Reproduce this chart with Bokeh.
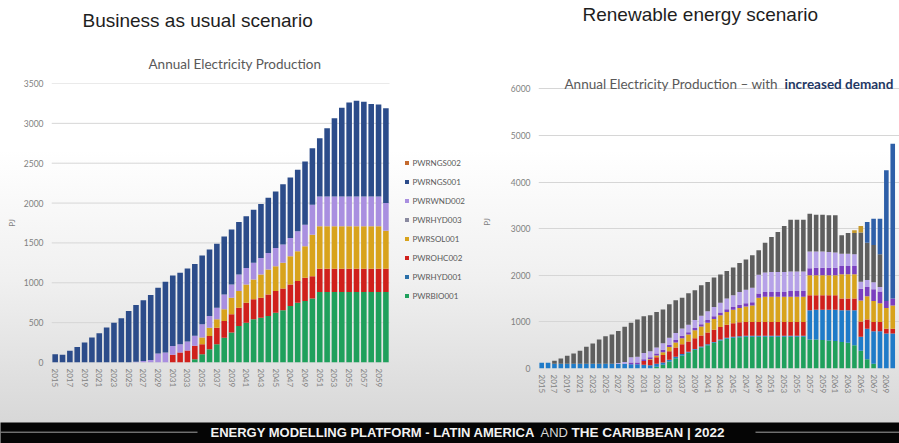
from bokeh.plotting import figure
from bokeh.models import (Range1d, FixedTicker, Label, Legend, LegendItem, ColumnDataSource)
from bokeh.layouts import column, row
from bokeh.embed import file_html
from bokeh.resources import INLINE

# ---------------- Business as usual scenario (2015-2060) ----------------
years_bau = list(range(2015, 2061))
xticks_bau = list(range(2015, 2060, 2))
yticks_bau = [0, 500, 1000, 1500, 2000, 2500, 3000, 3500]
bau_series = ["PWRBIO001", "PWRHYD001", "PWROHC002", "PWRSOL001",
              "PWRHYD003", "PWRWND002", "PWRNGS001", "PWRNGS002"]
bau_bio001 = [0, 0, 0, 0, 0, 0, 0, 0, 0, 0, 0, 0, 0, 0, 0, 0, 0, 0, 0,
              40, 104, 167, 229, 312, 375, 458, 500, 542, 562, 583, 625, 654, 708, 750, 771, 804,
              884, 884, 884, 884, 884, 884, 884, 884, 884, 884]
bau_hyd001 = [0, 0, 0, 0, 0, 0, 0, 0, 0, 0, 0, 0, 0, 0, 0, 0, 0, 0, 0, 0, 0, 0, 0,
              0, 0, 0, 0, 0, 0, 0, 0, 0, 0, 0, 0, 0, 0, 0, 0, 0, 0, 0, 0, 0, 0, 0]
bau_ohc002 = [0, 0, 0, 0, 0, 0, 0, 0, 0, 0, 0, 0, 0, 0, 0, 0,
              96, 125, 150, 170, 125, 166, 208, 208, 229, 229, 250, 250, 250, 271, 271, 275,
              271, 271, 291, 279,
              291, 291, 291, 291, 291, 291, 291, 291, 291, 291]
bau_sol001 = [0, 0, 0, 0, 0, 0, 0, 0, 0, 0, 0, 0, 0, 0, 0, 0, 0, 0, 0, 0,
              84, 104, 105, 147, 208, 209, 229, 250, 292, 313, 312, 321, 354, 375, 396, 521,
              533, 533, 533, 533, 533, 533, 533, 533, 533, 479]
bau_hyd003 = [0, 0, 0, 0, 0, 0, 0, 0, 0, 0, 0, 0, 0, 0, 0, 0, 0, 0, 0, 0, 0, 0, 0,
              0, 0, 0, 0, 0, 0, 0, 0, 0, 0, 0, 0, 0, 0, 0, 0, 0, 0, 0, 0, 0, 0, 0]
bau_wnd002 = [0, 0, 0, 0, 0, 0, 0, 0, 0, 0, 0,
              10, 20, 30, 112, 125, 112, 104, 113, 125, 166, 146, 145, 187, 167, 208, 208,
              208, 208, 208, 229, 229, 229, 250, 271, 375,
              375, 375, 375, 375, 375, 375, 375, 375, 375, 346]
bau_ngs001 = [105, 96, 146, 196, 250, 313, 367, 438, 500, 555, 646, 711, 760, 816, 825, 887,
              882, 896, 917, 902, 863, 834, 803, 728, 688, 658, 648, 665, 675, 691, 709, 758,
              759, 771, 792, 709, 730, 855, 980, 1113, 1180, 1201, 1188, 1159, 1155, 1188]
bau_ngs002 = [0, 0, 0, 0, 0, 0, 0, 0, 0, 0, 0, 0, 0, 0, 0, 0, 0, 0, 0, 0, 0, 0, 0,
              0, 0, 0, 0, 0, 0, 0, 0, 0, 0, 0, 0, 0, 0, 0, 0, 0, 0, 0, 0, 0, 0, 0]
bau_colors = ["#1fa05c", "#2a6fa8", "#d0201c", "#d8a31c",
              "#8a8aa0", "#a98fe0", "#2c4c8a", "#c46a2e"]

# ---------------- Renewable energy scenario (2015-2070) ----------------
years_ren = list(range(2015, 2071))
xticks_ren = list(range(2015, 2070, 2))
yticks_ren = [0, 1000, 2000, 3000, 4000, 5000, 6000]
ren_series = ["bio", "hyd", "ohc", "sol", "hyd3", "wnd", "ngs", "ngs2", "new"]
ren_bio = [0, 0, 0, 0, 0, 0, 0, 0, 0, 0, 0, 0, 0, 0, 0, 0, 0, 0,
           40, 80, 150, 220, 280, 340, 400, 450, 500, 550, 600, 640, 660, 670, 680, 680,
           680, 680, 680, 680, 680, 680, 680, 680, 620, 620, 610, 600, 590, 570, 550, 500,
           380, 200, 100, 0, 0, 0]
ren_hyd = [121, 121, 100, 100, 100, 100, 100, 100, 100, 100, 100, 100, 100, 100,
           90, 90, 80, 70, 60, 50, 40, 30, 30,
           20, 20, 20, 20, 20, 20, 20, 20, 20, 20, 20, 20, 20, 20, 20, 20, 20, 20, 20,
           630, 640, 650, 660, 670, 680, 700, 750, 300, 650, 700, 800, 750, 750]
ren_ohc = [0, 0, 0, 0, 0, 0, 0, 0, 0, 0, 0, 0, 0, 0, 0, 0,
           80, 110, 140, 160, 180, 200, 210, 220, 230, 240, 250, 260, 270, 280, 290,
           300, 300, 300, 300, 300, 300, 300, 300, 300, 300, 300,
           320, 310, 310, 310, 310, 250, 250, 250, 330, 200, 200, 200, 100, 100]
ren_sol = [0, 0, 0, 0, 0, 0, 0, 0, 0, 0, 0, 0, 0, 0, 0, 0, 0,
           20, 40, 60, 90, 110, 130, 150, 170, 190, 210, 230, 250, 270, 290, 310, 330, 350,
           520, 540, 540, 540, 540, 540, 540, 540, 430, 430, 430, 430, 430, 520, 520, 520,
           450, 500, 450, 400, 450, 500]
ren_hyd3 = [0, 0, 0, 0, 0, 0, 0, 0, 0, 0, 0, 0, 0, 0,
            40, 40, 40, 40, 40, 50, 50, 50, 50, 50, 50, 50, 60, 60, 60, 60, 60, 70, 70, 70,
            90, 100, 100, 100, 100, 120, 120, 120, 150, 160, 160, 160, 160, 180, 180, 180,
            250, 200, 250, 250, 150, 150]
ren_wnd = [0, 0, 0, 0, 0, 0, 0, 0, 0, 0, 0, 0,
           20, 40, 110, 120, 130, 130, 130, 140, 150, 150, 160, 160, 170, 180, 190, 200,
           210, 230, 250, 270, 290, 310, 400, 420, 430, 430, 430, 420, 420, 420,
           360, 350, 350, 340, 330, 260, 260, 250, 150, 150, 150, 100, 0, 0]
ren_ngs = [0, 0, 64, 114, 171, 221, 279, 364, 436, 521, 593, 629, 687, 753, 739, 800,
           791, 773, 764, 724, 719, 704, 660, 675, 639, 656, 627, 630, 604, 593, 594, 624,
           646, 699, 526, 640, 751, 859, 987, 1113, 1113, 1113, 811, 790, 790, 786, 796,
           397, 447, 454, 1057, 800, 800, 700, 0, 0]
ren_ngs2 = [0, 0, 0, 0, 0, 0, 0, 0, 0, 0, 0, 0, 0, 0, 0, 0, 0, 0, 0, 0, 0, 0, 0, 0, 0, 0,
            0, 0, 0, 0, 0, 0, 0, 0, 0, 0, 0, 0, 0, 0, 0, 0, 0, 0, 0, 0, 0, 0, 0,
            60, 140, 0, 0, 0, 0, 0]
ren_new = [0, 0, 0, 0, 0, 0, 0, 0, 0, 0, 0, 0, 0, 0, 0, 0, 0, 0, 0, 0, 0, 0, 0, 0, 0, 0,
           0, 0, 0, 0, 0, 0, 0, 0, 0, 0, 0, 0, 0, 0, 0, 0, 0, 0, 0, 0, 0, 0, 0, 0, 0,
           443, 564, 764, 2800, 3321]
ren_colors = ["#1fa05c", "#1f7bc8", "#d0201c", "#d8a31c", "#7a3fbf",
              "#b6a2e8", "#5e5e5e", "#c79a2c", "#2e5fa8"]

TICK_FONT = "Lato"
GRID = "#d6d6d6"


def style_chart(p, xticks, yticks, label_standoff):
    p.xaxis.ticker = FixedTicker(ticks=xticks)
    p.yaxis.ticker = FixedTicker(ticks=yticks)
    for ax in p.axis:
        ax.axis_line_color = None
        ax.major_tick_line_color = None
        ax.minor_tick_line_color = None
        ax.major_tick_out = 0
        ax.major_tick_in = 0
        ax.minor_tick_out = 0
        ax.minor_tick_in = 0
        ax.major_label_text_font = TICK_FONT
        ax.major_label_text_color = "#7f7f7f"
    p.xaxis.major_label_text_font_size = "8px"
    p.yaxis.major_label_text_font_size = "8.5px"
    p.xaxis.major_label_orientation = "vertical"
    p.xaxis.major_label_standoff = 6
    p.yaxis.major_label_standoff = 8
    p.yaxis.axis_label = "PJ"
    p.yaxis.axis_label_text_font = TICK_FONT
    p.yaxis.axis_label_text_font_size = "8px"
    p.yaxis.axis_label_text_font_style = "normal"
    p.yaxis.axis_label_text_color = "#7f7f7f"
    p.yaxis.axis_label_standoff = label_standoff
    p.xgrid.grid_line_color = None
    p.ygrid.grid_line_color = GRID
    p.ygrid.grid_line_width = 1
    p.outline_line_color = None
    p.background_fill_alpha = 0
    p.border_fill_alpha = 0


def blank(w, h):
    f = figure(width=w, height=h, x_range=Range1d(0, w), y_range=Range1d(h, 0),
               output_backend="svg", toolbar_location=None, min_border=0,
               x_axis_location=None, y_axis_location=None, frame_align=False)
    f.grid.visible = False
    f.outline_line_color = None
    f.background_fill_alpha = 0
    f.border_fill_alpha = 0
    return f


# ---------------- left header ----------------
h1 = blank(478, 74)
h1.add_layout(Label(x=82, y=19.5, text="Business as usual scenario", text_align="left",
                    text_baseline="middle", text_font="Liberation Sans",
                    text_font_size="19px", text_color="#1e1e1e"))
h1.add_layout(Label(x=148, y=63, text="Annual Electricity Production", text_align="left",
                    text_baseline="middle", text_font="Lato",
                    text_font_size="13.5px", text_color="#595959"))

# ---------------- left chart (frame extended right to hold the legend) ----------------
p1 = figure(width=478, height=348, x_range=Range1d(2014.5, 2072.6), y_range=Range1d(0, 3500),
            output_backend="svg", toolbar_location=None, frame_align=False,
            min_border_left=51, min_border_right=0, min_border_top=9, min_border_bottom=60)
style_chart(p1, xticks_bau, yticks_bau, 4)
p1.ygrid.grid_line_color = None
p1.segment(x0=[2014.5] * len(yticks_bau), y0=yticks_bau,
           x1=[2060.5] * len(yticks_bau), y1=yticks_bau, line_color=GRID, line_width=1)

src1 = ColumnDataSource(dict(year=years_bau,
                             PWRBIO001=bau_bio001, PWRHYD001=bau_hyd001,
                             PWROHC002=bau_ohc002, PWRSOL001=bau_sol001,
                             PWRHYD003=bau_hyd003, PWRWND002=bau_wnd002,
                             PWRNGS001=bau_ngs001, PWRNGS002=bau_ngs002))
r1 = p1.vbar_stack(bau_series, x="year", width=0.76, fill_color=bau_colors,
                   line_color=None, source=src1)

items = [LegendItem(label=name, renderers=[r]) for name, r in zip(bau_series, r1)][::-1]
leg = Legend(items=items, location=(352.5, 61.5), orientation="vertical",
             glyph_width=5, glyph_height=5, label_height=9, spacing=9,
             padding=0, margin=0, label_standoff=4,
             label_text_font=TICK_FONT, label_text_font_size="8px",
             label_text_color="#595959", border_line_color=None,
             background_fill_alpha=0)
p1.add_layout(leg, "center")

# ---------------- right header ----------------
h2 = blank(421, 75)
h2.add_layout(Label(x=104, y=13.5, text="Renewable energy scenario", text_align="left",
                    text_baseline="middle", text_font="Liberation Sans",
                    text_font_size="19px", text_color="#1e1e1e"))

# ---------------- right chart ----------------
p2 = figure(width=421, height=347, x_range=Range1d(2014.5, 2071.06), y_range=Range1d(0, 6285),
            output_backend="svg", toolbar_location=None, frame_align=False,
            min_border_left=59, min_border_right=0, min_border_top=0, min_border_bottom=54)
style_chart(p2, xticks_ren, yticks_ren, 16)

src2 = ColumnDataSource(dict(year=years_ren, bio=ren_bio, hyd=ren_hyd, ohc=ren_ohc,
                             sol=ren_sol, hyd3=ren_hyd3, wnd=ren_wnd, ngs=ren_ngs,
                             ngs2=ren_ngs2, new=ren_new))
p2.vbar_stack(ren_series, x="year", width=0.72, fill_color=ren_colors,
              line_color=None, source=src2)

p2.add_layout(Label(x=26, y=284.5, x_units="screen", y_units="screen",
                    text="Annual Electricity Production \u2013 with ", text_align="left",
                    text_baseline="middle", text_font="Lato",
                    text_font_size="13.5px", text_color="#595959"))
p2.add_layout(Label(x=246, y=284.5, x_units="screen", y_units="screen",
                    text="increased demand", text_align="left",
                    text_baseline="middle", text_font="Lato", text_font_style="bold",
                    text_font_size="13.5px", text_color="#1f3864"))

# ---------------- footer ----------------
p3 = figure(width=899, height=21, x_range=Range1d(0, 899), y_range=Range1d(21, 0),
            output_backend="svg", toolbar_location=None, min_border=0, frame_align=False,
            x_axis_location=None, y_axis_location=None)
p3.grid.visible = False
p3.outline_line_color = None
p3.background_fill_color = "#050505"
p3.border_fill_color = "#050505"
p3.segment(x0=[0, 755], y0=[9.7, 9.7], x1=[197, 899], y1=[9.7, 9.7],
           line_color="#a0a0a0", line_width=1)
p3.add_layout(Label(x=210, y=10, text="ENERGY MODELLING PLATFORM - LATIN AMERICA",
                    text_align="left", text_baseline="middle", text_font="Liberation Sans",
                    text_font_style="bold", text_font_size="13px", text_color="#f2f2f2"))
p3.add_layout(Label(x=540, y=10, text="AND", text_align="left", text_baseline="middle",
                    text_font="Liberation Sans", text_font_size="13px", text_color="#d8d8d8"))
p3.add_layout(Label(x=571, y=10, text="THE CARIBBEAN | 2022", text_align="left",
                    text_baseline="middle", text_font="Liberation Sans",
                    text_font_style="bold", text_font_size="13.5px", text_color="#f2f2f2"))

layout = column(row(column(h1, p1), column(h2, p2)), p3,
                styles={"background": "linear-gradient(to bottom, #ffffff 0px, #ffffff 150px, #f0f0f0 280px, #d8d8d8 420px)"})

open("out.html", "w").write(file_html(layout, INLINE))
